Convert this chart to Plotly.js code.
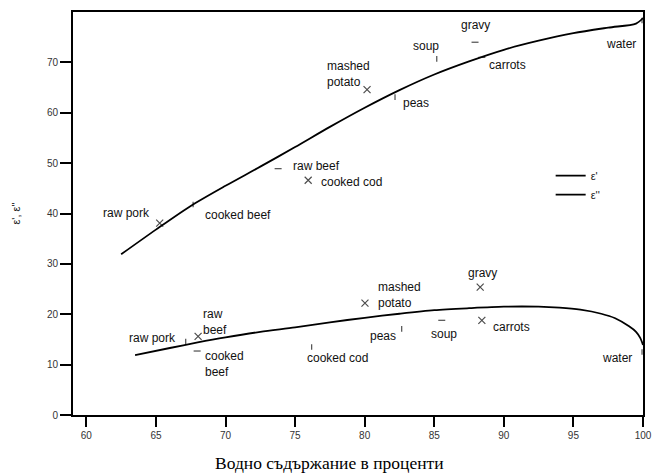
<!DOCTYPE html>
<html>
<head>
<meta charset="utf-8">
<script src="https://cdn.plot.ly/plotly-3.0.1.min.js"></script>
<style>html,body{margin:0;padding:0;background:#fff;}#chart{width:652px;height:476px;}</style>
</head>
<body>
<div id="chart"></div>
<script>
// ---- data ----
const xTickVals = [60, 65, 70, 75, 80, 85, 90, 95, 100];
const yTickVals = [0, 10, 20, 30, 40, 50, 60, 70];
const xTitle = 'Водно съдържание в проценти';
const yTitle = "ε', ε''";

// fitted curve for epsilon'
const curve1X = [62.5, 65, 67.5, 70, 72.5, 75, 77.5, 80, 82.5, 85, 87.5, 90, 92.5, 95, 97.5, 99.5, 100];
const curve1Y = [31.9, 36.8, 41.5, 45.5, 49.3, 53.2, 57.2, 61.0, 64.5, 67.6, 70.2, 72.5, 74.3, 75.8, 76.9, 77.7, 78.8];

// fitted curve for epsilon''
const curve2X = [63.5, 66, 68, 70, 72.5, 75, 77.5, 80, 82.5, 85, 87.5, 90, 92.5, 94, 95.5, 97, 98, 99, 99.5, 99.8, 100];
const curve2Y = [11.9, 13.3, 14.4, 15.4, 16.5, 17.4, 18.4, 19.3, 20.1, 20.8, 21.2, 21.5, 21.5, 21.3, 20.9, 20.1, 19.2, 17.6, 16.5, 15.3, 13.9];

// measured foods, epsilon'
const upperLabels = ['raw pork', 'cooked beef', 'raw beef', 'cooked cod', 'mashed<br>potato', 'peas', 'soup', 'gravy', 'carrots', 'water'];
const upperX = [65.27, 67.67, 73.78, 75.94, 80.17, 82.18, 85.18, 87.93, 88.42, 99.93];
const upperY = [38.1, 41.8, 48.9, 46.6, 64.6, 63.1, 70.7, 74.0, 71.0, 78.3];

// measured foods, epsilon''
const lowerLabels = ['raw pork', 'raw<br>beef', 'cooked<br>beef', 'cooked cod', 'mashed<br>potato', 'peas', 'soup', 'gravy', 'carrots', 'water'];
const lowerX = [67.14, 68.03, 67.96, 76.19, 80.02, 82.66, 85.54, 88.30, 88.42, 99.93];
const lowerY = [14.6, 15.6, 12.7, 13.5, 22.2, 17.1, 18.8, 25.4, 18.8, 12.5];

// ---- styles / placement ----
const SYM = {x: 'x-thin-open', tick: 'line-ns-open', dash: 'line-ew-open'};
const SZ = {x: 7, tick: 4, dash: 5};
const upperSym = ['x', 'tick', 'dash', 'x', 'x', 'tick', 'tick', 'dash', 'dash', 'tick'];
const lowerSym = ['tick', 'x', 'dash', 'tick', 'x', 'tick', 'dash', 'x', 'x', 'tick'];
// [xanchor, xshift, yshift]
const upperPlace = [['center', -33, 10], ['center', 45, -11], ['center', 38, 3], ['center', 43, -2],
  ['left', -41, 15.5], ['center', 20.5, -6], ['center', -10.7, 13], ['center', 0, 17], ['center', 26, -8], ['center', -21, -23]];
const lowerPlace = [['center', -33.5, 3], ['left', 3.5, 14.5], ['left', 6.5, -12.8], ['center', 25.8, -11.3],
  ['left', 12, 7.7], ['center', -19, -6.7], ['center', 2.3, -14], ['center', 2.5, 13.7], ['center', 30, -7], ['center', -24.7, -6.3]];

const labelFont = {family: 'Liberation Sans, Arial, sans-serif', size: 12, color: '#111'};

const traces = [
  {x: curve1X, y: curve1Y, mode: 'lines', name: "ε'", line: {color: '#000', width: 1.8, shape: 'spline', smoothing: 0.8}},
  {x: curve2X, y: curve2Y, mode: 'lines', name: "ε''", line: {color: '#000', width: 1.8, shape: 'spline', smoothing: 0.8}},
  {x: upperX, y: upperY, mode: 'markers', showlegend: false, hoverinfo: 'skip',
   marker: {symbol: upperSym.map(s => SYM[s]), size: upperSym.map(s => SZ[s]), color: '#000', line: {color: '#000', width: 1.2}}},
  {x: lowerX, y: lowerY, mode: 'markers', showlegend: false, hoverinfo: 'skip',
   marker: {symbol: lowerSym.map(s => SYM[s]), size: lowerSym.map(s => SZ[s]), color: '#000', line: {color: '#000', width: 1.2}}}
];

const annotations = [];
function addLabels(xs, ys, labels, place) {
  for (let i = 0; i < xs.length; i++) {
    annotations.push({
      x: xs[i], y: ys[i], xref: 'x', yref: 'y', text: labels[i], showarrow: false,
      xanchor: place[i][0], yanchor: 'middle', xshift: place[i][1], yshift: place[i][2],
      align: 'left', font: labelFont, borderpad: 0
    });
  }
}
addLabels(upperX, upperY, upperLabels, upperPlace);
addLabels(lowerX, lowerY, lowerLabels, lowerPlace);

// x-axis title, placed as in the reference (slightly left of the plot centre)
annotations.push({
  xref: 'paper', yref: 'paper', x: 0.45, y: -0.118, xanchor: 'center', yanchor: 'middle',
  text: xTitle, showarrow: false,
  font: {family: 'Liberation Serif, Times New Roman, serif', size: 17.5, color: '#000'}
});

const axisCommon = {
  showline: true, linecolor: '#000', linewidth: 2, mirror: true,
  ticks: 'outside', tickcolor: '#000', tickwidth: 2,
  showgrid: false, zeroline: false,
  tickfont: {family: 'Liberation Sans, Arial, sans-serif', size: 10, color: '#333'}
};

const layout = {
  width: 652, height: 476,
  margin: {l: 73, r: 9, t: 12, b: 61},
  paper_bgcolor: '#fff', plot_bgcolor: '#fff',
  showlegend: true,
  legend: {x: 0.838, y: 0.63, xanchor: 'left', yanchor: 'top', bgcolor: 'rgba(0,0,0,0)',
           font: {family: 'Liberation Sans, Arial, sans-serif', size: 11, color: '#222'}},
  xaxis: Object.assign({}, axisCommon, {
    range: [59.04, 100], tickvals: xTickVals, ticktext: xTickVals.map(String), ticklen: 10
  }),
  yaxis: Object.assign({}, axisCommon, {
    range: [0, 80], tickvals: yTickVals, ticktext: yTickVals.map(String), ticklen: 11,
    title: {text: yTitle, standoff: 24,
            font: {family: 'Liberation Sans, Arial, sans-serif', size: 11, color: '#222'}}
  }),
  annotations: annotations
};

Plotly.newPlot('chart', traces, layout, {staticPlot: true, displayModeBar: false});
</script>
</body>
</html>
